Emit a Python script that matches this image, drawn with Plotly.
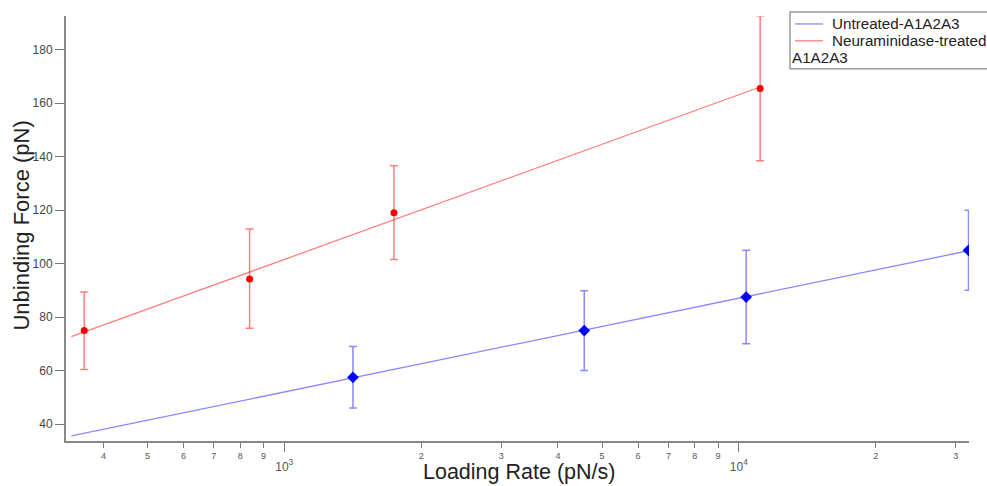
import numpy as np
import plotly.graph_objects as go

# Loading rate (pN/s) and unbinding force (pN) per condition
untreated_rate = [1416, 4569, 10376, 32000]
untreated_force = [57.5, 75.0, 87.5, 105.0]
untreated_err_plus = [11.5, 14.9, 17.5, 15.0]
untreated_err_minus = [11.5, 14.9, 17.4, 14.9]

treated_rate = [363, 839, 1743, 11138]
treated_force = [75.0, 94.3, 119.0, 165.5]
treated_err_plus = [14.4, 18.7, 17.6, 27.2]
treated_err_minus = [14.6, 18.4, 17.4, 27.0]

fit_start_rate = 340

# Axis tick values and labels
x_minor_vals = [400, 500, 600, 700, 800, 900, 2000, 3000, 4000, 5000, 6000, 7000, 8000, 9000, 20000, 30000]
x_minor_text = ["4", "5", "6", "7", "8", "9", "2", "3", "4", "5", "6", "7", "8", "9", "2", "3"]
x_decade_vals = [1000, 10000]
x_decade_text = ["10<sup>3</sup>", "10<sup>4</sup>"]
y_tick_vals = [40, 60, 80, 100, 120, 140, 160, 180]

series_names = ["Untreated-A1A2A3", "Neuraminidase-treated", "A1A2A3"]

BLUE = "rgb(0,0,255)"
RED = "rgb(255,0,0)"
BLUE_LINE = "rgba(40,40,255,0.55)"
RED_LINE = "rgba(255,40,40,0.6)"
FONT = "Liberation Sans, Arial, sans-serif"

W, H = 987, 486
ML, MR, MT, MB = 66, 18, 16, 42
PW, PH = W - ML - MR, H - MT - MB


def px_x(px):
    return (px - ML) / PW


def px_y(py):
    return (H - MB - py) / PH


def fit_line(rate, force):
    lx = np.log10(rate)
    slope, icpt = np.polyfit(lx, force, 1)
    xs = np.array([fit_start_rate, max(rate)], dtype=float)
    return xs, slope * np.log10(xs) + icpt


fig = go.Figure()

for rate, force, ep, em, mcol, lcol, sym, msize in [
    (untreated_rate, untreated_force, untreated_err_plus, untreated_err_minus, BLUE, BLUE_LINE, "diamond", 9),
    (treated_rate, treated_force, treated_err_plus, treated_err_minus, RED, RED_LINE, "circle", 7),
]:
    fx, fy = fit_line(rate, force)
    fig.add_trace(go.Scatter(x=fx, y=fy, mode="lines",
                             line=dict(color=lcol, width=1.3),
                             showlegend=False, hoverinfo="skip"))
    fig.add_trace(go.Scatter(
        x=rate, y=force, mode="markers",
        marker=dict(color=mcol, symbol=sym, size=msize, line=dict(width=0)),
        error_y=dict(type="data", symmetric=False, array=ep, arrayminus=em,
                     color=lcol, thickness=1.5, width=4),
        showlegend=False))

tickvals = x_minor_vals + x_decade_vals
ticktext = x_minor_text + ["<br><span style='font-size:12px'>%s</span>" % t for t in x_decade_text]

fig.update_xaxes(
    type="log",
    range=[np.log10(331), np.log10(32080)],
    tickmode="array", tickvals=tickvals, ticktext=ticktext,
    ticks="outside", ticklen=5, tickwidth=1, tickcolor="#777",
    tickfont=dict(family=FONT, size=9, color="#555"),
    minor=dict(tickmode="array", tickvals=x_decade_vals, ticks="outside",
               ticklen=9, tickwidth=1, tickcolor="#777", showgrid=False),
    showline=True, linecolor="#888", linewidth=2,
    showgrid=False, zeroline=False,
)
fig.update_yaxes(
    range=[33.7, 192.6],
    tickmode="array", tickvals=y_tick_vals,
    ticks="outside", ticklen=9, tickwidth=1, tickcolor="#777",
    tickfont=dict(family=FONT, size=12, color="#444"),
    showline=True, linecolor="#888", linewidth=2,
    showgrid=False, zeroline=False,
)

annotations = [
    dict(text="Unbinding Force (pN)", x=px_x(22), y=px_y(227), xref="paper", yref="paper",
         textangle=-90, showarrow=False, font=dict(family=FONT, size=22, color="#222"),
         xanchor="center", yanchor="middle"),
    dict(text="Loading Rate (pN/s)", x=px_x(519), y=px_y(475), xref="paper", yref="paper",
         showarrow=False, font=dict(family=FONT, size=21.5, color="#222"),
         xanchor="center", yanchor="middle"),
    dict(text=series_names[0], x=px_x(830), y=px_y(24), xref="paper", yref="paper",
         showarrow=False, font=dict(family=FONT, size=15.2, color="#222"),
         xanchor="left", yanchor="middle"),
    dict(text=series_names[1], x=px_x(830), y=px_y(41), xref="paper", yref="paper",
         showarrow=False, font=dict(family=FONT, size=15.2, color="#222"),
         xanchor="left", yanchor="middle"),
    dict(text=series_names[2], x=px_x(790), y=px_y(58), xref="paper", yref="paper",
         showarrow=False, font=dict(family=FONT, size=15.2, color="#222"),
         xanchor="left", yanchor="middle"),
]

shapes = [
    dict(type="rect", xref="paper", yref="paper",
         x0=px_x(790), x1=px_x(1020), y0=px_y(69), y1=px_y(12),
         line=dict(color="#999", width=1.5), fillcolor="white", layer="above"),
    dict(type="line", xref="paper", yref="paper",
         x0=px_x(795), x1=px_x(823), y0=px_y(24), y1=px_y(24),
         line=dict(color=BLUE_LINE, width=1.3)),
    dict(type="line", xref="paper", yref="paper",
         x0=px_x(795), x1=px_x(823), y0=px_y(41), y1=px_y(41),
         line=dict(color=RED_LINE, width=1.3)),
]

fig.update_layout(
    width=W, height=H,
    margin=dict(l=ML, r=MR, t=MT, b=MB),
    paper_bgcolor="white", plot_bgcolor="white",
    annotations=annotations, shapes=shapes,
    showlegend=False,
)

fig.write_html("out.html")
